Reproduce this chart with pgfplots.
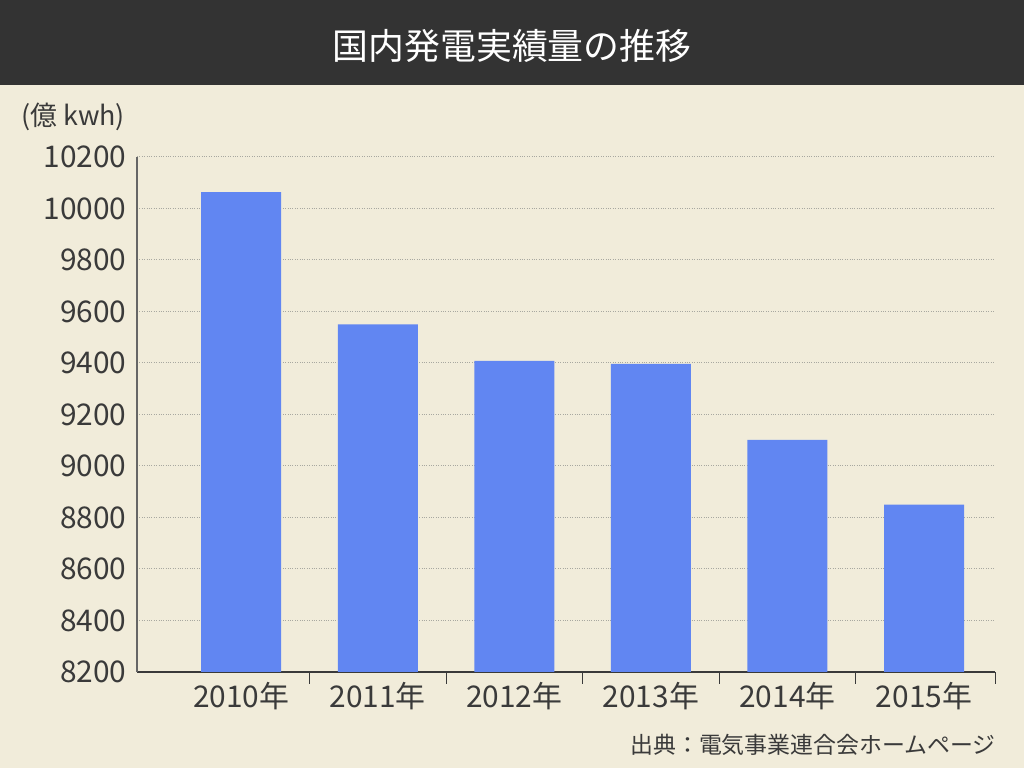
\documentclass[border=0pt]{standalone}
\usepackage{fontspec}
\setmainfont{Noto Sans CJK JP}
\usepackage{pgfplots}
\pgfplotsset{compat=1.18}
\definecolor{bg}{HTML}{F1ECDA}
\definecolor{barc}{HTML}{6186F2}
\definecolor{titlebar}{HTML}{333333}
\definecolor{txt}{HTML}{3A3A3A}
\definecolor{gridc}{HTML}{A8A8A0}
\begin{document}
\begin{tikzpicture}[x=1bp,y=1bp]
\fill[bg] (0,0) rectangle (1024,768);
\useasboundingbox (0,0) rectangle (1024,768);
\fill[titlebar] (0,683) rectangle (1024,768);
\node[white, font=\fontsize{36}{40}\selectfont] at (512,722) {国内発電実績量の推移};
\node[txt, anchor=west, inner sep=0pt, font=\fontsize{27}{30}\selectfont] at (21,651) {(億 kwh)};
\node[txt, anchor=east, inner sep=0pt, font=\fontsize{23}{28}\selectfont] at (996,23) {出典：電気事業連合会ホームページ};
\begin{axis}[
  at={(137bp,96bp)}, anchor=south west,
  scale only axis, width=858bp, height=515bp,
  xmin=-0.763, xmax=5.52,
  ymin=8200, ymax=10200,
  ytick={8200,8400,...,10200},
  scaled y ticks=false,
  xtick={0,1,2,3,4,5},
  xticklabels={2010年,2011年,2012年,2013年,2014年,2015年},
  minor xtick={0.5,1.5,2.5,3.5,4.5,5.52},
  major x tick style={draw=none},
  minor tick length=12bp,
  minor x tick style={draw=txt, line width=1pt},
  y tick style={draw=none},
  axis x line*=bottom, axis y line*=left,
  x axis line style={draw=txt, line width=1.5pt},
  y axis line style={draw=gray!80!black, line width=1.5pt},
  ymajorgrids, major grid style={gridc, dotted, line width=1pt},
  /pgf/number format/1000 sep={},
  /pgf/number format/assume math mode=true,
  ticklabel style={txt, font=\fontsize{30}{34}\selectfont},
  yticklabel style={xshift=-7bp},
  xticklabel style={yshift=-3bp},
  ybar, bar width=80bp,
]
\addplot[fill=barc, draw=none] coordinates {(0,10064) (1,9550) (2,9408) (3,9397) (4,9101) (5,8850)};
\end{axis}
\end{tikzpicture}
\end{document}
